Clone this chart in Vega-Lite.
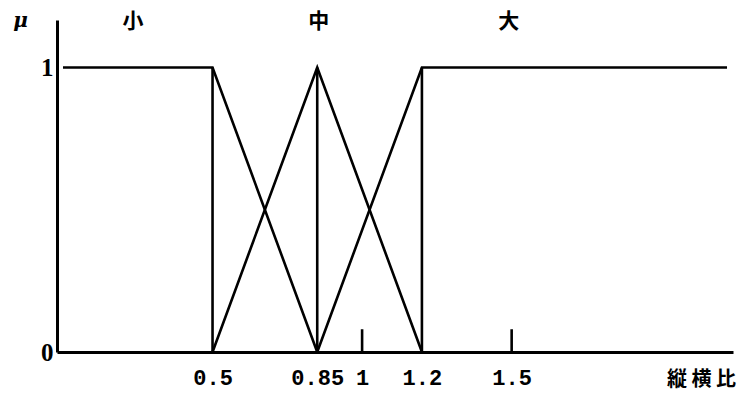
{
  "$schema": "https://vega.github.io/schema/vega-lite/v6.json",
  "width": 676,
  "height": 332,
  "autosize": {"type": "none"},
  "padding": {"left": 57, "top": 20, "right": 13, "bottom": 44},
  "background": "white",
  "config": {"view": {"stroke": null}},
  "datasets": {
    "curves": [
      {"set": "小", "x": 0, "mu": 1, "o": 1},
      {"set": "小", "x": 0.5, "mu": 1, "o": 2},
      {"set": "小", "x": 0.85, "mu": 0, "o": 3},
      {"set": "中", "x": 0.5, "mu": 0, "o": 1},
      {"set": "中", "x": 0.85, "mu": 1, "o": 2},
      {"set": "中", "x": 1.2, "mu": 0, "o": 3},
      {"set": "大", "x": 0.85, "mu": 0, "o": 1},
      {"set": "大", "x": 1.2, "mu": 1, "o": 2},
      {"set": "大", "x": 2.22, "mu": 1, "o": 3}
    ],
    "verticals": [
      {"x": 0.5, "lo": 0, "hi": 1},
      {"x": 0.85, "lo": 0, "hi": 1},
      {"x": 1.2, "lo": 0, "hi": 1}
    ],
    "ticks": [
      {"x": 1, "lo": 0, "hi": 0.08},
      {"x": 1.5, "lo": 0, "hi": 0.08}
    ],
    "names": [
      {"name": "小", "x": 0.234, "mu": 1.16},
      {"name": "中", "x": 0.855, "mu": 1.16},
      {"name": "大", "x": 1.49, "mu": 1.16}
    ]
  },
  "layer": [
    {
      "data": {"name": "curves"},
      "mark": {"type": "line", "color": "black", "strokeWidth": 2.6, "strokeJoin": "miter"},
      "encoding": {
        "x": {
          "field": "x", "type": "quantitative",
          "scale": {"domain": [-0.02, 2.24], "nice": false, "zero": false},
          "axis": {
            "values": [0.5, 0.85, 1, 1.2, 1.5],
            "format": "~g",
            "grid": false,
            "ticks": false,
            "domainColor": "black",
            "domainWidth": 3,
            "labelFont": "Liberation Mono",
            "labelFontWeight": "bold",
            "labelFontSize": 22,
            "labelColor": "black",
            "labelPadding": 25,
            "labelBaseline": "middle",
            "labelFlush": false,
            "labelOverlap": false,
            "title": "縦 横 比",
            "titleFont": "Noto Sans CJK JP",
            "titleFontWeight": "bold",
            "titleFontSize": 20,
            "titleColor": "black",
            "titleAnchor": "start",
            "titleAlign": "center",
            "titleBaseline": "middle",
            "titleX": 644,
            "titleY": 27
          }
        },
        "y": {
          "field": "mu", "type": "quantitative",
          "scale": {"domain": [0, 1.167], "nice": false},
          "axis": {
            "values": [0, 1],
            "format": "~g",
            "grid": false,
            "ticks": false,
            "domainColor": "black",
            "domainWidth": 3,
            "labelFont": "Liberation Serif",
            "labelFontWeight": "bold",
            "labelFontSize": 25,
            "labelColor": "black",
            "labelPadding": 4,
            "labelBaseline": "middle",
            "labelFlush": false,
            "title": "μ",
            "titleFont": "DejaVu Serif",
            "titleFontStyle": "italic",
            "titleFontWeight": "bold",
            "titleFontSize": 20,
            "titleColor": "black",
            "titleAngle": 0,
            "titleAlign": "center",
            "titleBaseline": "middle",
            "titleX": -37,
            "titleY": 0
          }
        },
        "detail": {"field": "set"},
        "order": {"field": "o"}
      }
    },
    {
      "data": {"name": "verticals"},
      "mark": {"type": "rule", "color": "black", "strokeWidth": 2.6},
      "encoding": {
        "x": {"field": "x", "type": "quantitative"},
        "y": {"field": "lo", "type": "quantitative"},
        "y2": {"field": "hi"}
      }
    },
    {
      "data": {"name": "ticks"},
      "mark": {"type": "rule", "color": "black", "strokeWidth": 2.6},
      "encoding": {
        "x": {"field": "x", "type": "quantitative"},
        "y": {"field": "lo", "type": "quantitative"},
        "y2": {"field": "hi"}
      }
    },
    {
      "data": {"name": "names"},
      "mark": {"type": "text", "font": "Noto Sans CJK SC", "fontWeight": "bold", "fontSize": 21, "color": "black", "baseline": "middle", "align": "center"},
      "encoding": {
        "x": {"field": "x", "type": "quantitative"},
        "y": {"field": "mu", "type": "quantitative"},
        "text": {"field": "name"}
      }
    }
  ]
}
